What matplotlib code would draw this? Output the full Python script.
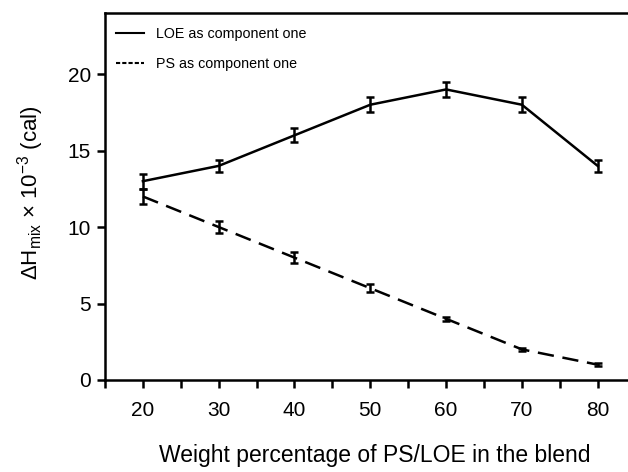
import matplotlib
matplotlib.use('Agg')
import matplotlib.pyplot as plt
from matplotlib.lines import Line2D
import numpy as np

plt.rcParams['font.family'] = ['Liberation Sans', 'DejaVu Sans']
plt.rcParams['mathtext.default'] = 'regular'

# данные
wt = np.array([20, 30, 40, 50, 60, 70, 80])
loe = np.array([13.0, 14.0, 16.0, 18.0, 19.0, 18.0, 14.0])
loe_err = np.array([0.5, 0.4, 0.45, 0.5, 0.5, 0.5, 0.4])
ps = np.array([12.0, 10.0, 8.0, 6.0, 4.0, 2.0, 1.0])
ps_err = np.array([0.5, 0.4, 0.35, 0.25, 0.15, 0.1, 0.08])
labels = ['LOE as component one', 'PS as component one']

fig = plt.figure(figsize=(6.28, 4.72), dpi=100)
ax = fig.add_axes([0.1672, 0.195, 0.8328, 0.7775])

lw = 1.8
ax.errorbar(wt, loe, yerr=loe_err, color='black', lw=lw, capsize=3, capthick=lw,
            elinewidth=lw)
ax.errorbar(wt, ps, yerr=ps_err, color='black', lw=lw, capsize=3, capthick=lw,
            elinewidth=lw, dashes=(6.5, 3.5))

ax.set_xlim(15, 84)
ax.set_ylim(0, 24)
ax.set_xticks(np.arange(15, 85, 5))
ax.set_xticklabels(['', '20', '', '30', '', '40', '', '50', '', '60', '', '70', '', '80'])
ax.set_yticks([0, 5, 10, 15, 20])
ax.tick_params(labelsize=15, width=lw, length=6, pad=9)
ax.tick_params(axis='y', pad=4)

for s in ['left', 'bottom', 'top']:
    ax.spines[s].set_linewidth(lw)
ax.spines['right'].set_visible(False)

ax.set_xlabel('Weight percentage of PS/LOE in the blend', fontsize=16.5)
ax.xaxis.set_label_coords(0.515, -0.174)
ax.set_ylabel('ΔH$_{mix}$ × 10$^{-3}$ (cal)', fontsize=16)
ax.yaxis.set_label_coords(-0.113, 0.51)

h = [Line2D([], [], color='black', lw=1.5),
     Line2D([], [], color='black', lw=1.5, dashes=(2, 1))]
ax.legend(h, labels, loc='upper left', frameon=False, fontsize=10.3, handlelength=1.9,
          handletextpad=0.85, labelspacing=1.1, borderaxespad=0.0,
          bbox_to_anchor=(0.011, 0.977))

fig.savefig('out.png', dpi=100)
